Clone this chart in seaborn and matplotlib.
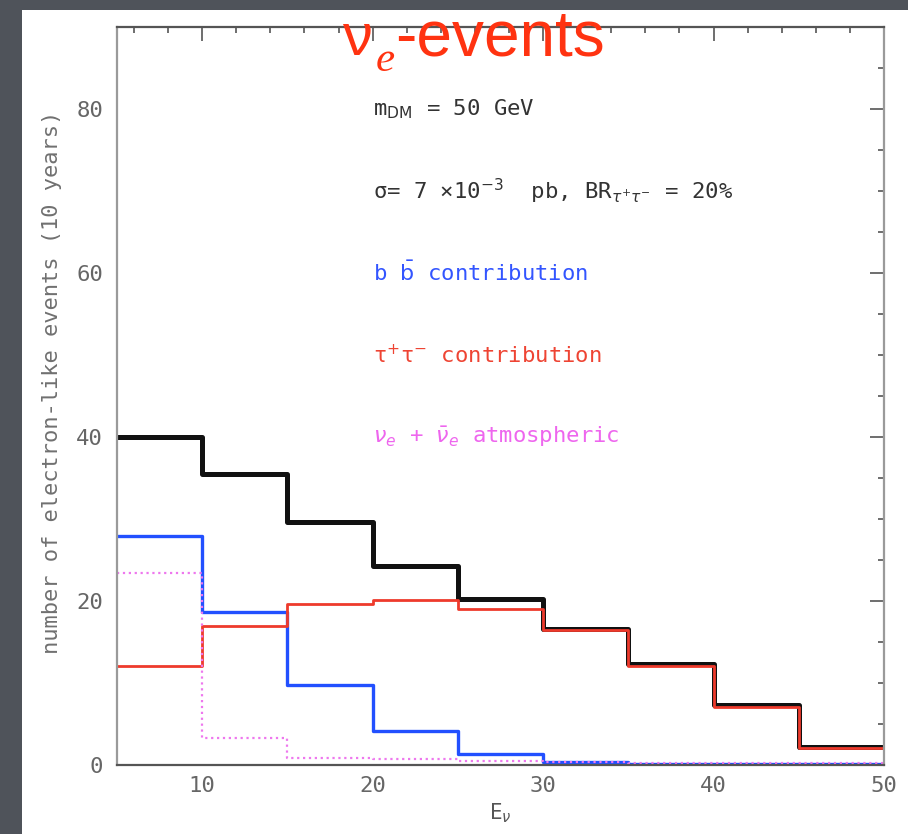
import numpy as np
import pandas as pd
import matplotlib
matplotlib.use("Agg")
import matplotlib.pyplot as plt
import seaborn as sns
from matplotlib.patches import Rectangle
from matplotlib.ticker import MultipleLocator

# Neutrino energy bins (GeV) and event counts per bin
bin_edges = [5, 10, 15, 20, 25, 30, 35, 40, 45, 50]
total_events = [40.0, 35.5, 29.6, 24.3, 20.3, 16.6, 12.3, 7.3, 2.2]
bb_events = [27.9, 18.6, 9.8, 4.2, 1.3, 0.4, 0.1, 0.1, 0.1]
tautau_events = [12.1, 16.9, 19.6, 20.1, 19.0, 16.5, 12.1, 7.1, 2.1]
atm_events = [23.4, 3.3, 0.9, 0.7, 0.5, 0.4, 0.2, 0.2, 0.2]
x_ticks = [10, 20, 30, 40, 50]
y_ticks = [0, 20, 40, 60, 80]

edges = np.array(bin_edges, dtype=float)
centers = (edges[:-1] + edges[1:]) / 2
df = pd.DataFrame({
    "E": centers,
    "total": total_events,
    "bb": bb_events,
    "tautau": tautau_events,
    "atm": atm_events,
})

sns.set_theme(style="white")
plt.rcParams["font.family"] = ["DejaVu Sans Mono", "DejaVu Sans"]

W, H = 908, 834
fig = plt.figure(figsize=(W / 100, H / 100), dpi=100)
fig.patch.set_facecolor("#4f535a")
panel = Rectangle((22 / W, 0), 1 - 22 / W, 1 - 10 / H,
                  transform=fig.transFigure, facecolor="white",
                  edgecolor="none", zorder=-10)
fig.add_artist(panel)

ax = fig.add_axes([117 / W, 1 - 765 / H, (884 - 117) / W, (765 - 27) / H])
ax.set_facecolor("white")

series = [
    ("total", "#111111", 3.6, "-"),
    ("bb", "#2250ff", 2.4, "-"),
    ("tautau", "#ee3a2c", 2.0, "-"),
    ("atm", "#ee77ee", 1.6, ":"),
]
for col, color, lw, ls in series:
    sns.histplot(data=df, x="E", weights=col, bins=bin_edges, element="step",
                 fill=False, color=color, linewidth=lw, linestyle=ls, ax=ax)

ax.set_xlim(5, 50)
ax.set_ylim(0, 90)
ax.set_xticks(x_ticks)
ax.set_yticks(y_ticks)
ax.xaxis.set_minor_locator(MultipleLocator(2))
ax.yaxis.set_minor_locator(MultipleLocator(5))
ax.tick_params(which="both", direction="in", top=True, right=True,
               colors="#555555", labelcolor="#666666", width=1.2)
ax.tick_params(which="major", length=10, labelsize=16, pad=10)
ax.tick_params(which="minor", length=4.5)
ax.tick_params(axis="x", which="major", pad=8)
for side in ["top", "bottom"]:
    ax.spines[side].set_color("#555555")
    ax.spines[side].set_linewidth(1.6)
for side in ["left", "right"]:
    ax.spines[side].set_color("#9a9a9a")
    ax.spines[side].set_linewidth(1.6)

ax.set_xlabel(r"E$_{\nu}$", fontsize=15, color="#555555", labelpad=4,
              math_fontfamily="dejavusans")
ax.set_ylabel("number of electron-like events (10 years)", fontsize=15.8,
              color="#707070")
ax.yaxis.set_label_coords(-0.072, 0.518)

note_kw = dict(fontsize=16, va="center", ha="left", math_fontfamily="dejavusans")
ax.text(20, 80, r"m$_{\rm DM}$ = 50 GeV", color="#333333", **note_kw)
ax.text(20, 70, r"σ= 7 ×10$^{-3}$  pb, BR$_{τ^{+}τ^{-}}$ = 20%",
        color="#333333", **note_kw)
ax.text(20, 60, r"b $\bar{\rm b}$ contribution", color="#3355ff", **note_kw)
ax.text(20, 50, r"τ$^{+}$τ$^{-}$ contribution", color="#ee4433", **note_kw)
ax.text(20, 40, r"$ν_{e}$ + $\bar{ν}_{e}$ atmospheric", color="#ee66ee", **note_kw)

# Slide title: "ν" with a dropped italic "e" subscript, then "-events"
title_color = "#ff3311"
fig.text(343 / W, 1 - 55 / H, "ν", fontsize=43, color=title_color,
         family="Liberation Sans", ha="left", va="baseline", zorder=10)
fig.text(376 / W, 1 - 71 / H, "e", fontsize=31, color=title_color,
         family="Liberation Serif", style="italic", ha="left",
         va="baseline", zorder=10)
fig.text(395 / W, 1 - 55 / H, "-events", fontsize=46, color=title_color,
         family="Liberation Sans", ha="left", va="baseline", zorder=10)

fig.savefig("out.png", dpi=100, facecolor=fig.get_facecolor())
